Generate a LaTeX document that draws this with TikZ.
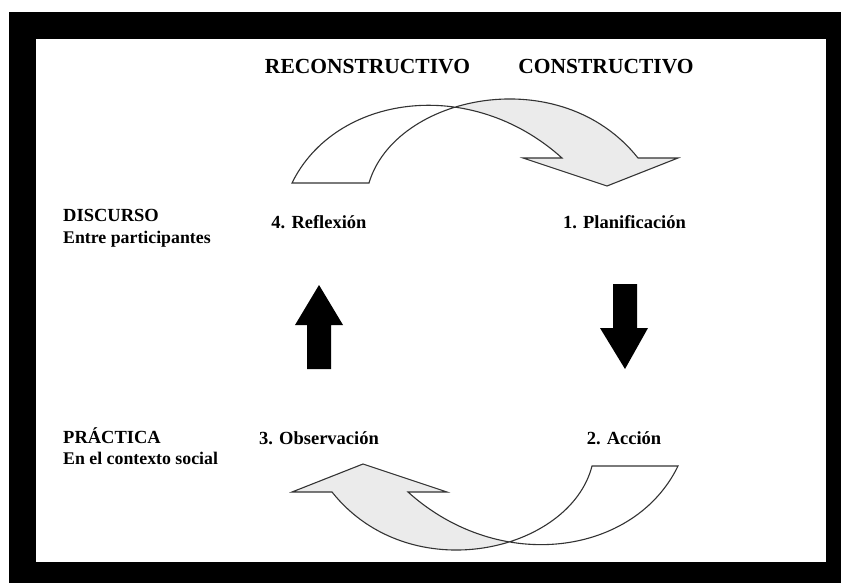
\documentclass[tikz,border=0pt]{standalone}
\usepackage{fontspec}
\setmainfont{Liberation Serif}
\definecolor{bandgray}{HTML}{EBEBEB}
\definecolor{edge}{HTML}{333333}
\tikzset{
  lbl/.style={inner sep=0pt, font=\fontsize{18.5}{22}\selectfont\bfseries},
  sublbl/.style={inner sep=0pt, font=\fontsize{17.8}{22}\selectfont\bfseries},
  head/.style={inner sep=0pt, font=\fontsize{21.5}{25}\selectfont\bfseries},
  band/.style={draw=edge, line width=1.1pt, line join=miter},
  block/.style={fill=black}
}
\begin{document}
\begin{tikzpicture}[x=1pt,y=-1pt]
\useasboundingbox (0,0) rectangle (841,583);
% frame
\fill[white] (0,0) rectangle (841,583);
\fill[black] (9,12) rectangle (841,583);
\fill[white] (36,39) rectangle (826,562);

% headings
\node[head] (recon) at (367.5,67) {RECONSTRUCTIVO};
\node[head] (constr) at (606,67) {CONSTRUCTIVO};

% left labels
\node[lbl, anchor=west] (disc) at (63,215) {DISCURSO};
\node[sublbl, anchor=west] (entre) at (63,239) {Entre participantes};
\node[lbl, anchor=west] (prac) at (63,436) {PRÁCTICA};
\node[sublbl, anchor=west] (ctx) at (63,458) {En el contexto social};

% stage labels
\node[lbl] (refl) at (319,222) {4. Reflexión};
\node[lbl] (plan) at (624.5,222) {1. Planificación};
\node[lbl] (obs) at (319,438) {3. Observación};
\node[lbl] (acc) at (624,438) {2. Acción};

% top twisted arrow
\def\toparrow{(292,183) .. controls (335,95) and (470,75) .. (562,158) -- (523,158) -- (607,186) -- (678,158) -- (638,158) .. controls (560,60) and (395,95) .. (369,183) -- cycle}
\fill[bandgray] \toparrow;
\begin{scope}
  \clip (0,0) rectangle (455,300);
  \fill[white] \toparrow;
\end{scope}
\draw[band] \toparrow;

% bottom twisted arrow
\def\botarrow{(678,466) .. controls (635,555) and (500,575) .. (408,492) -- (447,492) -- (363,464) -- (292,492) -- (332,492) .. controls (410,590) and (570,552) .. (592,466) -- cycle}
\fill[bandgray] \botarrow;
\begin{scope}
  \clip (514,300) rectangle (841,583);
  \fill[white] \botarrow;
\end{scope}
\draw[band] \botarrow;

% block arrows
\fill[block] (613,284) -- (637,284) -- (637,328) -- (648,328) -- (625,369) -- (600,328) -- (613,328) -- cycle;
\fill[block] (307,369) -- (331,369) -- (331,325) -- (343,325) -- (319,285) -- (295,325) -- (307,325) -- cycle;
\end{tikzpicture}
\end{document}
